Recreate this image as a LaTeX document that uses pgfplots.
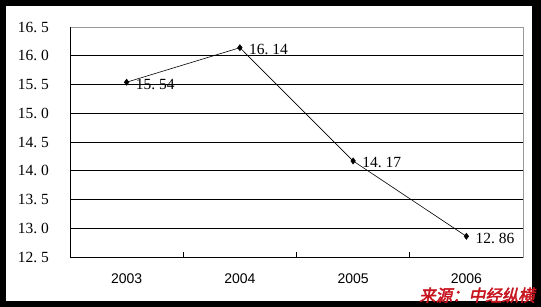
\documentclass[border=0pt]{standalone}
\usepackage{pgfplots}
\pgfplotsset{compat=1.18}
\usepackage{fontspec}
\setmainfont{Liberation Serif}
\newfontfamily\arialf{Liberation Sans}
\newfontfamily\cjk[FakeSlant=0.2,FakeBold=2.5]{Noto Sans CJK SC}
\newcommand\pd{\makebox[0.5em][l]{.}}
\definecolor{srcred}{RGB}{200,20,30}
\begin{document}
\begin{tikzpicture}
\fill[black] (0,0) rectangle (541bp,307bp);
\fill[white] (6bp,6bp) rectangle (532bp,301bp);
\begin{axis}[
  at={(70bp,50bp)}, anchor=south west,
  scale only axis, width=453bp, height=230bp,
  xmin=-0.5, xmax=3.5, ymin=12.5, ymax=16.5,
  xtick={0,1,2,3}, xticklabels={2003,2004,2005,2006},
  minor xtick={0.5,1.5,2.5},
  ytick={12.5,13,13.5,14,14.5,15,15.5,16,16.5},
  yticklabels={12\pd5,13\pd0,13\pd5,14\pd0,14\pd5,15\pd0,15\pd5,16\pd0,16\pd5},
  xtick pos=left, ytick pos=left,
  major tick length=0pt, minor tick length=4.5bp,
  minor tick style={black, line width=0.75bp},
  ymajorgrids, major grid style={black, line width=0.75bp},
  axis line style={draw=gray!80, line width=0.75bp},
  yticklabel style={font=\fontsize{15.5bp}{18bp}\selectfont, anchor=east, inner sep=0pt, xshift=-21bp},
  xticklabel style={font=\arialf\fontsize{14bp}{17bp}\selectfont, anchor=north, inner sep=0pt, yshift=-17bp},
  clip=false,
  point meta=explicit symbolic,
  nodes near coords,
  every node near coord/.append style={anchor=west, xshift=8bp, yshift=-2bp, inner sep=1bp, font=\fontsize{15.5bp}{18bp}\selectfont, text=black},
]
\addplot[black, line width=0.6bp, mark=diamond*, mark size=3bp, mark options={solid, fill=black}]
  coordinates {(0,15.54) [15\pd54] (1,16.14) [16\pd14] (2,14.17) [14\pd17] (3,12.86) [12\pd86]};
\draw[black, line width=0.75bp] (rel axis cs:0,1) -- (rel axis cs:0,0) -- (rel axis cs:1,0);
\end{axis}
\node[anchor=base east, inner sep=0pt, text=srcred, font=\cjk\fontsize{16.5bp}{18bp}\selectfont] at (535bp,5.5bp) {来源：中经纵横};
\end{tikzpicture}
\end{document}
